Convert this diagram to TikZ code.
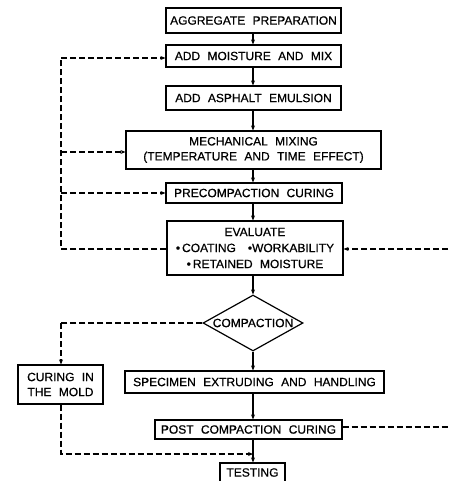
\documentclass[tikz,border=0pt]{standalone}
\usepackage{fontspec}
\setmainfont{Liberation Sans}[WordSpace=2.2,FakeBold=0.6]
\usetikzlibrary{shapes.geometric,arrows.meta}
\begin{document}
\begin{tikzpicture}[x=1pt,y=-1pt,
  box/.style={draw,line width=1.2pt,inner sep=0pt,align=center,
    font=\fontsize{12}{15}\selectfont},
  flow/.style={line width=1.1pt,-{Stealth[length=5pt,width=4pt]}},
  back/.style={line width=1.2pt,dash pattern=on 6pt off 3pt},
  backarr/.style={back,-{Stealth[length=5pt,width=4pt]}}]
\useasboundingbox (0,0) rectangle (448,481);
\fill[white] (0,0) rectangle (448,481);

\node[box,minimum width=175pt,minimum height=25pt] (agg) at (253.5,20.5) {AGGREGATE PREPARATION};
\node[box,minimum width=175pt,minimum height=22pt] (moist) at (253.5,56) {ADD MOISTURE AND MIX};
\node[box,minimum width=175pt,minimum height=24pt] (emul) at (253.5,98) {ADD ASPHALT EMULSION};
\node[box,minimum width=255pt,minimum height=38pt] (mech) at (253.5,150) {MECHANICAL MIXING\\(TEMPERATURE AND TIME EFFECT)};
\node[box,minimum width=176pt,minimum height=20pt] (pre) at (254,193) {PRECOMPACTION CURING};
\node[box,minimum width=176pt,minimum height=54pt,font=\fontsize{12}{16}\selectfont] (eval) at (255,248) {EVALUATE\\\textbullet\,COATING\quad\textbullet WORKABILITY\\\textbullet\,RETAINED MOISTURE};
\node[box,diamond,aspect=1.8,minimum width=100pt,minimum height=56pt] (comp) at (253,323) {COMPACTION};
\node[box,minimum width=85pt,minimum height=39pt] (mold) at (60.5,384.5) {CURING IN\\THE MOLD};
\node[box,minimum width=259pt,minimum height=22pt] (spec) at (254.5,382) {SPECIMEN EXTRUDING AND HANDLING};
\node[box,minimum width=187pt,minimum height=19pt] (post) at (248.5,429.5) {POST COMPACTION CURING};
\node[box,minimum width=65pt,minimum height=19pt] (test) at (252.5,472.5) {TESTING};

% main flow
\draw[flow] (agg.south -| 253,0) -- (moist.north -| 253,0);
\draw[flow] (moist.south -| 253,0) -- (emul.north -| 253,0);
\draw[flow] (emul.south -| 253,0) -- (mech.north -| 253,0);
\draw[flow] (mech.south -| 253,0) -- (pre.north -| 253,0);
\draw[flow] (pre.south -| 253,0) -- (eval.north -| 253,0);
\draw[flow] (eval.south -| 253,0) -- (comp.north);
\draw[flow] (comp.south) -- (spec.north -| 253,0);
\draw[flow] (spec.south -| 253,0) -- (post.north -| 253,0);
\draw[flow] (post.south -| 253,0) -- (test.north -| 253,0);

% left feedback
\coordinate (lb) at (61,249);
\coordinate (lt) at (61,58);
\draw[back] (eval.west |- lb) -- (lb) -- (lt);
\draw[backarr] (lt) -- (moist.west |- lt);
\draw[backarr] (61,152) -- (mech.west |- 0,152);
\draw[backarr] (61,193) -- (pre.west |- 0,193);

% right feedback
\coordinate (r1) at (448,249);
\coordinate (r2) at (448,427);
\draw[backarr] (r1) -- (eval.east |- r1);
\draw[back] (post.east |- r2) -- (r2);

% compaction branch
\coordinate (cl) at (61,323);
\draw[back] (comp.west) -- (cl);
\draw[backarr] (cl) -- (mold.north -| cl);
\coordinate (ml) at (61,454);
\draw[backarr] (mold.south -| ml) -- (ml) -- (253,454);
\end{tikzpicture}
\end{document}
